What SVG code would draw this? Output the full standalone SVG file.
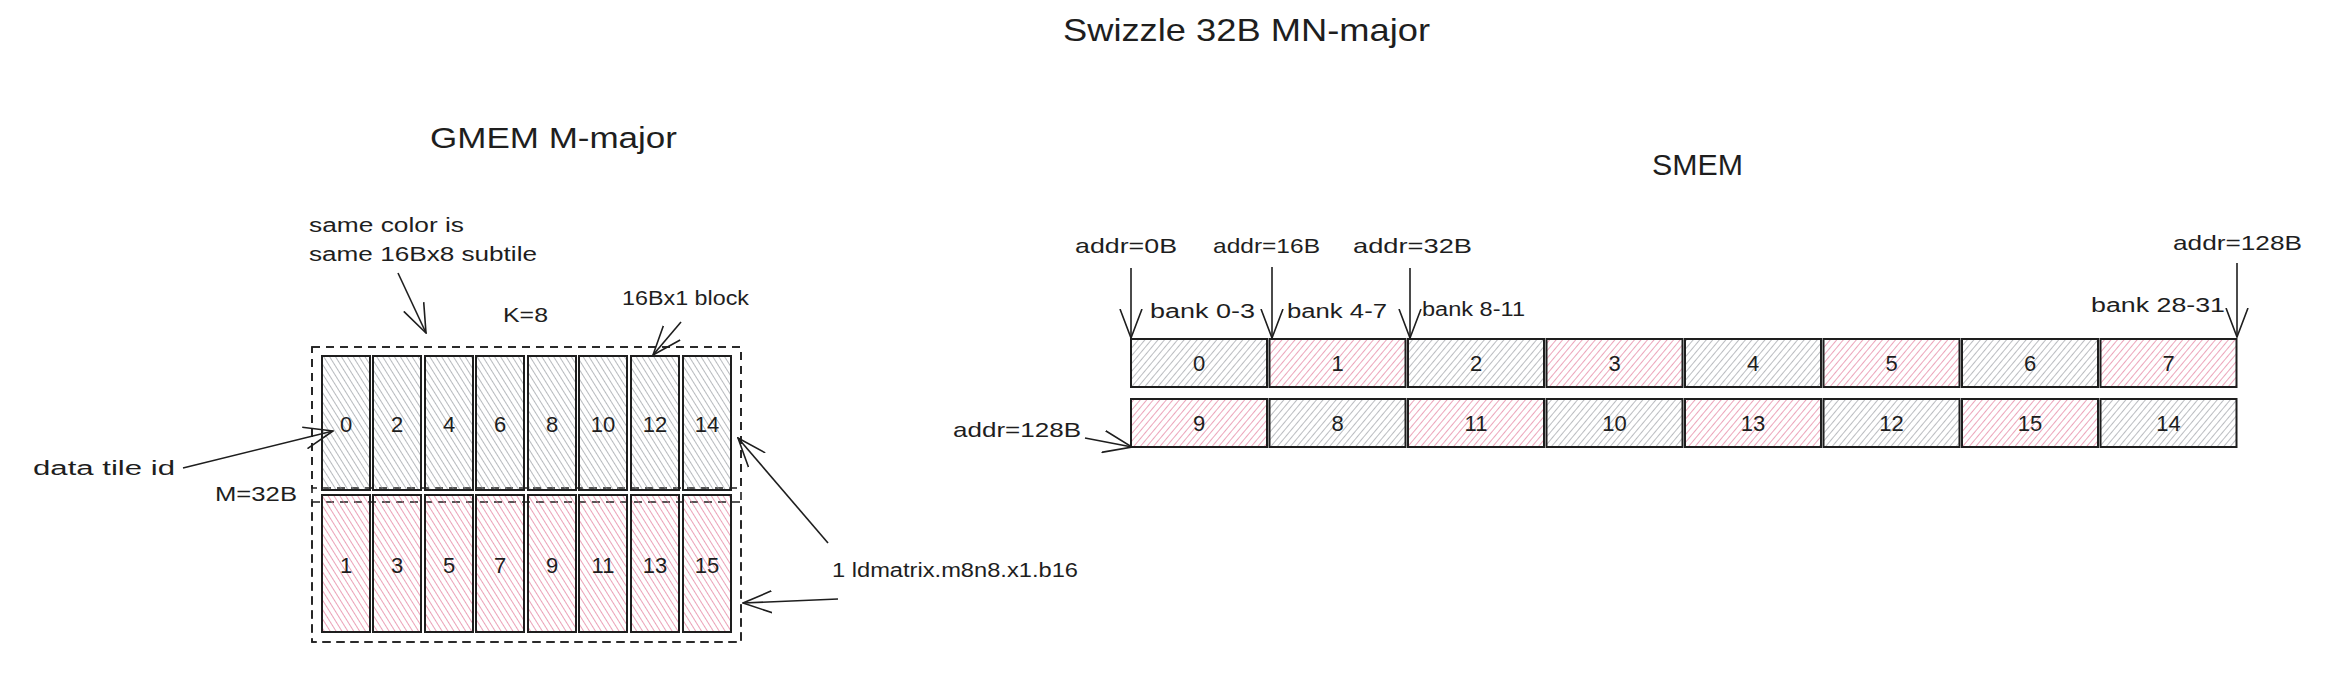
<svg xmlns="http://www.w3.org/2000/svg" width="2328" height="676" viewBox="0 0 2328 676">
<style>
text{font-family:"Liberation Sans","DejaVu Sans",sans-serif;fill:#1e1e1e}
.t20{font-size:20px}
.t21{font-size:21px}
.num{font-size:22px;text-anchor:middle;dominant-baseline:central}
.gtile{stroke:#1e1e1e;stroke-width:2}
.g{fill:url(#hg)}
.p{fill:url(#hp)}
.sg{fill:url(#sg)}
.sp{fill:url(#sp)}
.dash{fill:none;stroke:#1e1e1e;stroke-width:1.6;stroke-dasharray:8 6}
.conn{fill:none;stroke:#1e1e1e;stroke-width:1.6;marker-end:url(#ah)}
</style>
<defs>
<pattern id="hg" width="5" height="5" patternUnits="userSpaceOnUse" patternTransform="rotate(-32)"><line x1="0" y1="-1" x2="0" y2="6" stroke="#8c9096" stroke-width="1.25"/></pattern>
<pattern id="hp" width="5" height="5" patternUnits="userSpaceOnUse" patternTransform="rotate(-32)"><line x1="0" y1="-1" x2="0" y2="6" stroke="#df6a8d" stroke-width="1.25"/></pattern>
<pattern id="sg" width="5" height="5" patternUnits="userSpaceOnUse" patternTransform="rotate(40)"><line x1="0" y1="-1" x2="0" y2="6" stroke="#8c9096" stroke-width="1.2"/></pattern>
<pattern id="sp" width="5" height="5" patternUnits="userSpaceOnUse" patternTransform="rotate(40)"><line x1="0" y1="-1" x2="0" y2="6" stroke="#df6a8d" stroke-width="1.2"/></pattern>
<marker id="ah" viewBox="0 0 30 24" refX="29" refY="12" markerWidth="30" markerHeight="24" markerUnits="userSpaceOnUse" orient="auto"><path d="M0,1 L29,12 L0,23" fill="none" stroke="#1e1e1e" stroke-width="1.6"/></marker>
</defs>
<rect width="2328" height="676" fill="#ffffff"/>

<g id="titles">
<text x="1063" y="41" font-size="32" textLength="367" lengthAdjust="spacingAndGlyphs">Swizzle 32B MN-major</text>
<text x="430" y="148" font-size="30" textLength="247" lengthAdjust="spacingAndGlyphs">GMEM M-major</text>
<text x="1652" y="175" font-size="30" textLength="91" lengthAdjust="spacingAndGlyphs">SMEM</text>
</g>

<g id="gmem-labels">
<text class="t20" x="309" y="232" textLength="155" lengthAdjust="spacingAndGlyphs">same color is</text>
<text class="t20" x="309" y="261" textLength="228" lengthAdjust="spacingAndGlyphs">same 16Bx8 subtile</text>
<text class="t20" x="503" y="322" textLength="45" lengthAdjust="spacingAndGlyphs">K=8</text>
<text class="t20" x="622" y="305" textLength="127" lengthAdjust="spacingAndGlyphs">16Bx1 block</text>
<text class="t20" x="33" y="475" textLength="142" lengthAdjust="spacingAndGlyphs">data tile id</text>
<text class="t20" x="215" y="501" textLength="82" lengthAdjust="spacingAndGlyphs">M=32B</text>
<text class="t20" x="832" y="577" textLength="246" lengthAdjust="spacingAndGlyphs">1 ldmatrix.m8n8.x1.b16</text>
</g>

<g id="gmem-frames">
<rect class="dash" x="312" y="347" width="429" height="295"/>
<rect class="dash" x="312" y="347" width="429" height="141"/>
<rect class="dash" x="312" y="502" width="429" height="140"/>
</g>

<g id="gmem-tiles">
<g id="g0"><rect class="gtile g" x="322" y="356" width="48" height="134"/><text class="num" x="346" y="424">0</text></g>
<g id="g2"><rect class="gtile g" x="373" y="356" width="48" height="134"/><text class="num" x="397" y="424">2</text></g>
<g id="g4"><rect class="gtile g" x="425" y="356" width="48" height="134"/><text class="num" x="449" y="424">4</text></g>
<g id="g6"><rect class="gtile g" x="476" y="356" width="48" height="134"/><text class="num" x="500" y="424">6</text></g>
<g id="g8"><rect class="gtile g" x="528" y="356" width="48" height="134"/><text class="num" x="552" y="424">8</text></g>
<g id="g10"><rect class="gtile g" x="579" y="356" width="48" height="134"/><text class="num" x="603" y="424">10</text></g>
<g id="g12"><rect class="gtile g" x="631" y="356" width="48" height="134"/><text class="num" x="655" y="424">12</text></g>
<g id="g14"><rect class="gtile g" x="683" y="356" width="48" height="134"/><text class="num" x="707" y="424">14</text></g>
<g id="g1"><rect class="gtile p" x="322" y="495" width="48" height="137"/><text class="num" x="346" y="565">1</text></g>
<g id="g3"><rect class="gtile p" x="373" y="495" width="48" height="137"/><text class="num" x="397" y="565">3</text></g>
<g id="g5"><rect class="gtile p" x="425" y="495" width="48" height="137"/><text class="num" x="449" y="565">5</text></g>
<g id="g7"><rect class="gtile p" x="476" y="495" width="48" height="137"/><text class="num" x="500" y="565">7</text></g>
<g id="g9"><rect class="gtile p" x="528" y="495" width="48" height="137"/><text class="num" x="552" y="565">9</text></g>
<g id="g11"><rect class="gtile p" x="579" y="495" width="48" height="137"/><text class="num" x="603" y="565">11</text></g>
<g id="g13"><rect class="gtile p" x="631" y="495" width="48" height="137"/><text class="num" x="655" y="565">13</text></g>
<g id="g15"><rect class="gtile p" x="683" y="495" width="48" height="137"/><text class="num" x="707" y="565">15</text></g>
</g>

<g id="smem-labels">
<text class="t21" x="1075" y="253" textLength="102" lengthAdjust="spacingAndGlyphs">addr=0B</text>
<text class="t21" x="1213" y="253" textLength="107" lengthAdjust="spacingAndGlyphs">addr=16B</text>
<text class="t21" x="1353" y="253" textLength="119" lengthAdjust="spacingAndGlyphs">addr=32B</text>
<text class="t21" x="2173" y="250" textLength="129" lengthAdjust="spacingAndGlyphs">addr=128B</text>
<text class="t21" x="953" y="437" textLength="128" lengthAdjust="spacingAndGlyphs">addr=128B</text>
<text class="t20" x="1150" y="318" textLength="105" lengthAdjust="spacingAndGlyphs">bank 0-3</text>
<text class="t20" x="1287" y="318" textLength="100" lengthAdjust="spacingAndGlyphs">bank 4-7</text>
<text class="t20" x="1422" y="316" textLength="103" lengthAdjust="spacingAndGlyphs">bank 8-11</text>
<text class="t20" x="2091" y="312" textLength="134" lengthAdjust="spacingAndGlyphs">bank 28-31</text>
</g>

<g id="smem-tiles">
<g id="s0"><rect class="gtile sg" x="1131" y="339" width="136" height="48"/><text class="num" x="1199" y="363">0</text></g>
<g id="s1"><rect class="gtile sp" x="1269.5" y="339" width="136" height="48"/><text class="num" x="1337.5" y="363">1</text></g>
<g id="s2"><rect class="gtile sg" x="1408" y="339" width="136" height="48"/><text class="num" x="1476" y="363">2</text></g>
<g id="s3"><rect class="gtile sp" x="1546.5" y="339" width="136" height="48"/><text class="num" x="1614.5" y="363">3</text></g>
<g id="s4"><rect class="gtile sg" x="1685" y="339" width="136" height="48"/><text class="num" x="1753" y="363">4</text></g>
<g id="s5"><rect class="gtile sp" x="1823.5" y="339" width="136" height="48"/><text class="num" x="1891.5" y="363">5</text></g>
<g id="s6"><rect class="gtile sg" x="1962" y="339" width="136" height="48"/><text class="num" x="2030" y="363">6</text></g>
<g id="s7"><rect class="gtile sp" x="2100.5" y="339" width="136" height="48"/><text class="num" x="2168.5" y="363">7</text></g>
<g id="s9"><rect class="gtile sp" x="1131" y="399" width="136" height="48"/><text class="num" x="1199" y="423">9</text></g>
<g id="s8"><rect class="gtile sg" x="1269.5" y="399" width="136" height="48"/><text class="num" x="1337.5" y="423">8</text></g>
<g id="s11"><rect class="gtile sp" x="1408" y="399" width="136" height="48"/><text class="num" x="1476" y="423">11</text></g>
<g id="s10"><rect class="gtile sg" x="1546.5" y="399" width="136" height="48"/><text class="num" x="1614.5" y="423">10</text></g>
<g id="s13"><rect class="gtile sp" x="1685" y="399" width="136" height="48"/><text class="num" x="1753" y="423">13</text></g>
<g id="s12"><rect class="gtile sg" x="1823.5" y="399" width="136" height="48"/><text class="num" x="1891.5" y="423">12</text></g>
<g id="s15"><rect class="gtile sp" x="1962" y="399" width="136" height="48"/><text class="num" x="2030" y="423">15</text></g>
<g id="s14"><rect class="gtile sg" x="2100.5" y="399" width="136" height="48"/><text class="num" x="2168.5" y="423">14</text></g>
</g>

<g id="connectors">
<path class="conn" d="M398,273 L426,333"/>
<path class="conn" d="M681,322 L653,355"/>
<path class="conn" d="M183,468 L333,431" stroke-width="2.6"/>
<path class="conn" d="M828,543 L738,438"/>
<path class="conn" d="M838,599 L743,603"/>
<path class="conn" d="M1131,268 L1131,338"/>
<path class="conn" d="M1272,267 L1272,338"/>
<path class="conn" d="M1410,268 L1410,338"/>
<path class="conn" d="M2237,263 L2237,337"/>
<path class="conn" d="M1085,438 L1132,447"/>
</g>
</svg>
